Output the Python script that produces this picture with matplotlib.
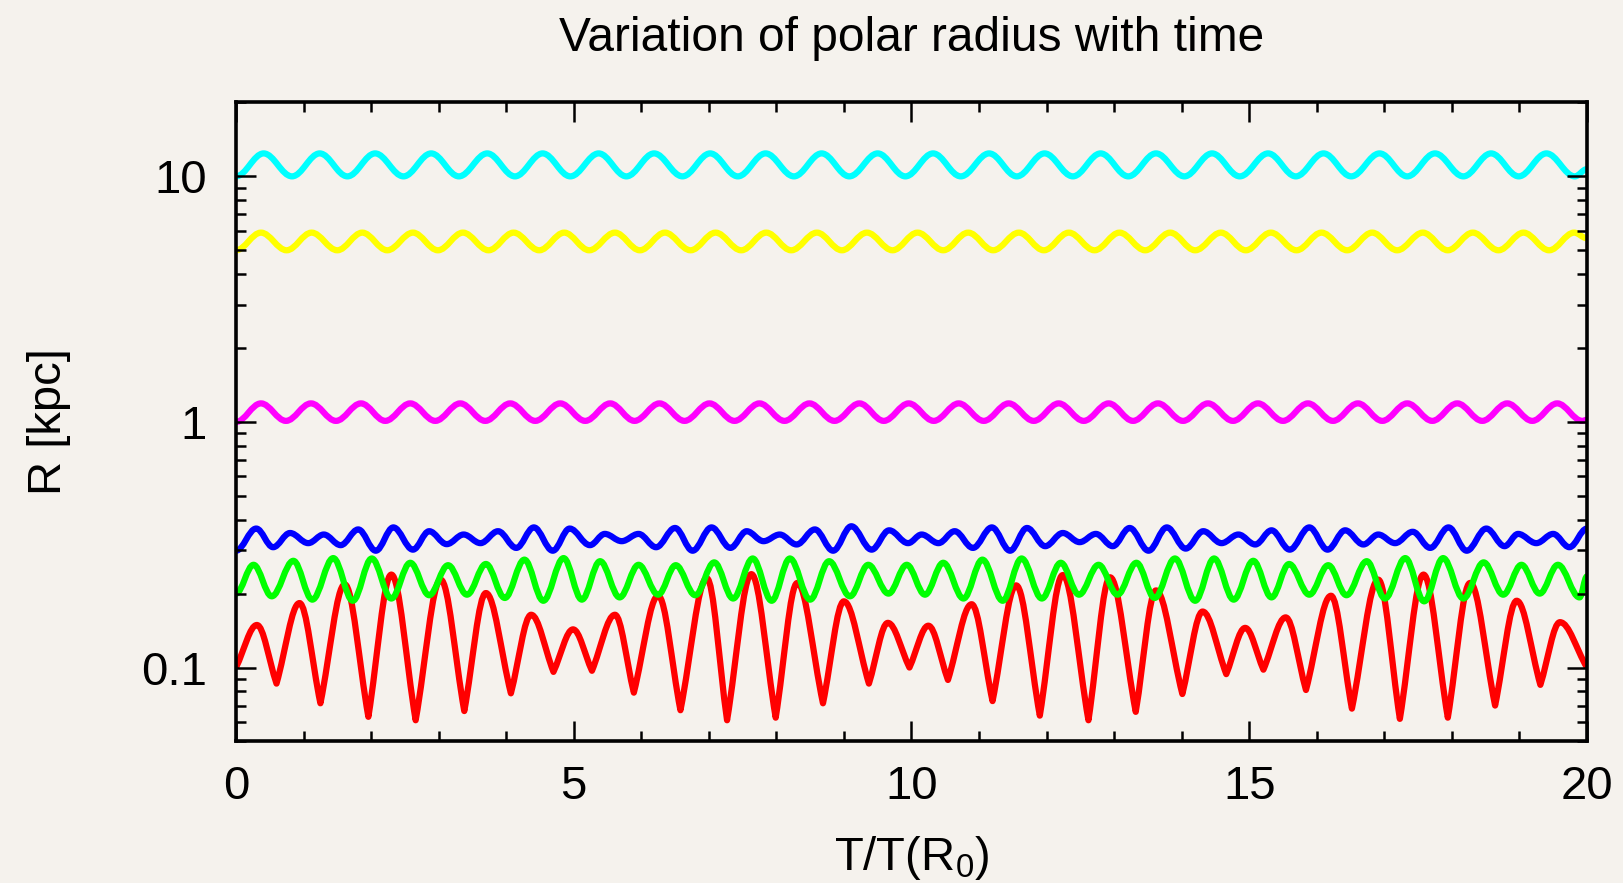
import matplotlib
matplotlib.use('Agg')
import matplotlib.pyplot as plt
from matplotlib.path import Path
from matplotlib.patches import PathPatch
from matplotlib.ticker import LogLocator, NullFormatter, MultipleLocator

plt.rcParams['font.family'] = ['Liberation Sans', 'DejaVu Sans']
plt.rcParams['mathtext.default'] = 'regular'

# turning points (time, radius), min/max alternating
red_t = [0.0, 0.31, 0.60, 0.94, 1.25, 1.61, 1.96, 2.30, 2.66, 3.03,
         3.38, 3.70, 4.07, 4.37, 4.70, 4.99, 5.27, 5.61, 5.89, 6.25,
         6.58, 6.97, 7.27, 7.63, 7.99, 8.31, 8.69, 9.00, 9.37, 9.65,
         9.97, 10.25, 10.54, 10.89, 11.20, 11.55, 11.90, 12.24, 12.62, 12.94,
         13.32, 13.62, 14.01, 14.31, 14.66, 14.94, 15.21, 15.54, 15.84, 16.21,
         16.52, 16.91, 17.23, 17.58, 17.94, 18.27, 18.64, 18.96, 19.31, 19.60,
         20.0]
red_r = [0.100, 0.149, 0.086, 0.183, 0.0715, 0.218, 0.063, 0.239, 0.061, 0.228,
         0.0665, 0.201, 0.0785, 0.164, 0.096, 0.143, 0.097, 0.164, 0.079, 0.196,
         0.067, 0.231, 0.061, 0.240, 0.0625, 0.221, 0.0715, 0.186, 0.086, 0.152,
         0.100, 0.148, 0.089, 0.181, 0.073, 0.216, 0.0637, 0.238, 0.061, 0.233,
         0.066, 0.206, 0.078, 0.169, 0.094, 0.145, 0.098, 0.160, 0.081, 0.196,
         0.068, 0.228, 0.0618, 0.239, 0.0625, 0.221, 0.070, 0.187, 0.085, 0.153,
         0.100]

green_t = [0.0, 0.26, 0.53, 0.85, 1.13, 1.44, 1.73, 2.01, 2.30, 2.58,
           2.86, 3.14, 3.42, 3.70, 3.98, 4.27, 4.55, 4.85, 5.12, 5.39,
           5.68, 5.96, 6.25, 6.51, 6.80, 7.08, 7.36, 7.65, 7.93, 8.20,
           8.50, 8.78, 9.09, 9.36, 9.66, 9.93, 10.20, 10.47, 10.77, 11.05,
           11.35, 11.63, 11.93, 12.21, 12.48, 12.77, 13.05, 13.33, 13.60, 13.90,
           14.20, 14.48, 14.77, 15.06, 15.33, 15.59, 15.89, 16.17, 16.44, 16.74,
           17.01, 17.31, 17.59, 17.87, 18.17, 18.47, 18.76, 19.03, 19.30, 19.57,
           19.89, 20.0]
green_r = [0.200, 0.262, 0.195, 0.272, 0.189, 0.279, 0.187, 0.278, 0.191, 0.267,
           0.197, 0.261, 0.198, 0.264, 0.192, 0.275, 0.187, 0.279, 0.189, 0.271,
           0.193, 0.262, 0.198, 0.261, 0.197, 0.268, 0.191, 0.278, 0.187, 0.278,
           0.189, 0.271, 0.195, 0.262, 0.200, 0.262, 0.198, 0.267, 0.191, 0.275,
           0.187, 0.278, 0.191, 0.267, 0.198, 0.262, 0.198, 0.267, 0.192, 0.278,
           0.187, 0.278, 0.189, 0.272, 0.193, 0.264, 0.198, 0.261, 0.197, 0.271,
           0.191, 0.279, 0.186, 0.279, 0.191, 0.268, 0.198, 0.262, 0.200, 0.262,
           0.193, 0.235]

blue_t = [0.0, 0.30, 0.55, 0.80, 1.07, 1.30, 1.55, 1.81, 2.07, 2.33,
          2.62, 2.86, 3.12, 3.37, 3.62, 3.88, 4.15, 4.41, 4.69, 4.94,
          5.24, 5.46, 5.71, 5.96, 6.22, 6.50, 6.76, 7.04, 7.32, 7.56,
          7.81, 8.05, 8.30, 8.57, 8.84, 9.11, 9.41, 9.67, 9.95, 10.15,
          10.40, 10.64, 10.91, 11.19, 11.46, 11.71, 11.98, 12.24, 12.49, 12.73,
          12.98, 13.23, 13.51, 13.78, 14.06, 14.32, 14.59, 14.84, 15.09, 15.33,
          15.60, 15.89, 16.16, 16.42, 16.69, 16.91, 17.16, 17.42, 17.68, 17.95,
          18.22, 18.51, 18.78, 18.98, 19.25, 19.50, 19.74, 20.0]
blue_r = [0.299, 0.368, 0.309, 0.353, 0.321, 0.348, 0.315, 0.365, 0.299, 0.372,
          0.302, 0.359, 0.318, 0.348, 0.321, 0.359, 0.307, 0.372, 0.299, 0.368,
          0.315, 0.350, 0.327, 0.350, 0.309, 0.370, 0.299, 0.372, 0.307, 0.359,
          0.327, 0.348, 0.317, 0.365, 0.299, 0.376, 0.302, 0.362, 0.321, 0.348,
          0.321, 0.359, 0.307, 0.372, 0.299, 0.370, 0.312, 0.353, 0.324, 0.350,
          0.312, 0.370, 0.299, 0.372, 0.305, 0.359, 0.321, 0.348, 0.317, 0.362,
          0.302, 0.372, 0.302, 0.362, 0.317, 0.348, 0.321, 0.357, 0.307, 0.372,
          0.299, 0.368, 0.312, 0.350, 0.321, 0.350, 0.309, 0.368]

magenta_t = [0.0, 0.37, 0.74, 1.11, 1.48, 1.85, 2.21, 2.58, 2.95, 3.32,
             3.69, 4.06, 4.43, 4.80, 5.17, 5.54, 5.90, 6.27, 6.64, 7.01,
             7.38, 7.75, 8.12, 8.49, 8.86, 9.23, 9.59, 9.96, 10.33, 10.70,
             11.07, 11.44, 11.81, 12.18, 12.55, 12.92, 13.28, 13.65, 14.02, 14.39,
             14.76, 15.13, 15.50, 15.87, 16.24, 16.61, 16.97, 17.34, 17.71, 18.08,
             18.45, 18.82, 19.19, 19.56, 19.93, 20.0]
magenta_r = [1.00, 1.19, 1.01, 1.19, 1.01, 1.19, 1.01, 1.19, 1.01, 1.19,
             1.01, 1.19, 1.01, 1.19, 1.01, 1.19, 1.01, 1.19, 1.01, 1.19,
             1.01, 1.19, 1.01, 1.19, 1.01, 1.19, 1.01, 1.19, 1.01, 1.19,
             1.01, 1.19, 1.01, 1.19, 1.01, 1.19, 1.01, 1.19, 1.01, 1.19,
             1.01, 1.19, 1.01, 1.19, 1.01, 1.19, 1.01, 1.19, 1.01, 1.19,
             1.01, 1.19, 1.01, 1.19, 1.01, 1.02]

yellow_t = [0.0, 0.37, 0.75, 1.12, 1.50, 1.87, 2.24, 2.62, 2.99, 3.36,
            3.74, 4.11, 4.49, 4.86, 5.23, 5.61, 5.98, 6.35, 6.73, 7.10,
            7.48, 7.85, 8.22, 8.60, 8.97, 9.34, 9.72, 10.09, 10.47, 10.84,
            11.21, 11.59, 11.96, 12.33, 12.71, 13.08, 13.46, 13.83, 14.20, 14.58,
            14.95, 15.32, 15.70, 16.07, 16.45, 16.82, 17.19, 17.57, 17.94, 18.31,
            18.69, 19.06, 19.44, 19.81, 20.0]
yellow_r = [5.0, 5.9, 5.0, 5.9, 5.0, 5.9, 5.0, 5.9, 5.0, 5.9,
            5.0, 5.9, 5.0, 5.9, 5.0, 5.9, 5.0, 5.9, 5.0, 5.9,
            5.0, 5.9, 5.0, 5.9, 5.0, 5.9, 5.0, 5.9, 5.0, 5.9,
            5.0, 5.9, 5.0, 5.9, 5.0, 5.9, 5.0, 5.9, 5.0, 5.9,
            5.0, 5.9, 5.0, 5.9, 5.0, 5.9, 5.0, 5.9, 5.0, 5.9,
            5.0, 5.9, 5.0, 5.9, 5.6]

cyan_t = [0.0, 0.41, 0.83, 1.24, 1.65, 2.06, 2.48, 2.89, 3.30, 3.72,
          4.13, 4.54, 4.95, 5.37, 5.78, 6.19, 6.61, 7.02, 7.43, 7.84,
          8.26, 8.67, 9.08, 9.50, 9.91, 10.32, 10.73, 11.15, 11.56, 11.97,
          12.39, 12.80, 13.21, 13.62, 14.04, 14.45, 14.86, 15.28, 15.69, 16.10,
          16.51, 16.93, 17.34, 17.75, 18.17, 18.58, 18.99, 19.40, 19.82, 20.0]
cyan_r = [10.0, 12.4, 10.0, 12.4, 10.0, 12.4, 10.0, 12.4, 10.0, 12.4,
          10.0, 12.4, 10.0, 12.4, 10.0, 12.4, 10.0, 12.4, 10.0, 12.4,
          10.0, 12.4, 10.0, 12.4, 10.0, 12.4, 10.0, 12.4, 10.0, 12.4,
          10.0, 12.4, 10.0, 12.4, 10.0, 12.4, 10.0, 12.4, 10.0, 12.4,
          10.0, 12.4, 10.0, 12.4, 10.0, 12.4, 10.0, 12.4, 10.0, 10.7]

x_ticks = [0, 5, 10, 15, 20]
y_ticks = [0.1, 1, 10]
y_ticklabels = ['0.1', '1', '10']


def orbit_path(t, r, sharp_minima=False):
    # smooth curve through the turning points; with sharp_minima the dips
    # are approached along a straight flank instead of flattening out
    verts = [(t[0], r[0])]
    codes = [Path.MOVETO]
    for i in range(len(t) - 1):
        t0, t1 = t[i], t[i + 1]
        r0, r1 = r[i], r[i + 1]
        dt = t1 - t0
        if sharp_minima and r1 < r0:
            c1 = (t0 + 0.34 * dt, r0)
            c2 = (t1 - 0.4 * dt, r1 * (r0 / r1) ** 0.4)
        elif sharp_minima:
            c1 = (t0 + 0.4 * dt, r0 * (r1 / r0) ** 0.4)
            c2 = (t1 - 0.34 * dt, r1)
        else:
            c1 = (t0 + 0.363 * dt, r0)
            c2 = (t1 - 0.363 * dt, r1)
        verts += [c1, c2, (t1, r1)]
        codes += [Path.CURVE4] * 3
    return Path(verts, codes)


bg = '#f5f2ed'
fig = plt.figure(figsize=(16.24, 8.83), dpi=100)
fig.patch.set_facecolor(bg)
ax = fig.add_axes([0.1453, 0.1603, 0.8319, 0.7237])
ax.set_facecolor(bg)
ax.set_yscale('log')

curves = [
    (red_t, red_r, '#ff0000', True),
    (green_t, green_r, '#00ff00', False),
    (blue_t, blue_r, '#0000ff', False),
    (magenta_t, magenta_r, '#ff00ff', False),
    (yellow_t, yellow_r, '#ffff00', False),
    (cyan_t, cyan_r, '#00ffff', False),
]
for t, r, col, sharp in curves:
    ax.add_patch(PathPatch(orbit_path(t, r, sharp), fill=False, edgecolor=col,
                           linewidth=4.5, joinstyle='round', capstyle='butt'))

ax.set_xlim(0, 20)
ax.set_ylim(0.05, 20)

ax.set_xticks(x_ticks)
ax.set_xticklabels([str(v) for v in x_ticks])
ax.xaxis.set_minor_locator(MultipleLocator(1))
ax.set_yticks(y_ticks)
ax.set_yticklabels(y_ticklabels)
ax.yaxis.set_minor_locator(LogLocator(base=10, subs=range(2, 10)))
ax.yaxis.set_minor_formatter(NullFormatter())

ax.tick_params(which='both', direction='in', top=True, right=True,
               width=1.8, labelsize=34, colors='black')
ax.tick_params(which='major', length=14.4)
ax.tick_params(which='minor', length=7.2)
ax.tick_params(axis='x', pad=17)
ax.tick_params(axis='y', pad=21)
for s in ax.spines.values():
    s.set_linewidth(2.6)

ax.set_title('Variation of polar radius with time', fontsize=34.5, pad=37)
ax.set_xlabel('T/T(R$_0$)', fontsize=34)
ax.set_ylabel('R [kpc]', fontsize=34)
ax.xaxis.set_label_coords(0.5, -0.145)
ax.yaxis.set_label_coords(-0.122, 0.5)

fig.savefig('out.png', dpi=100, facecolor=bg)
